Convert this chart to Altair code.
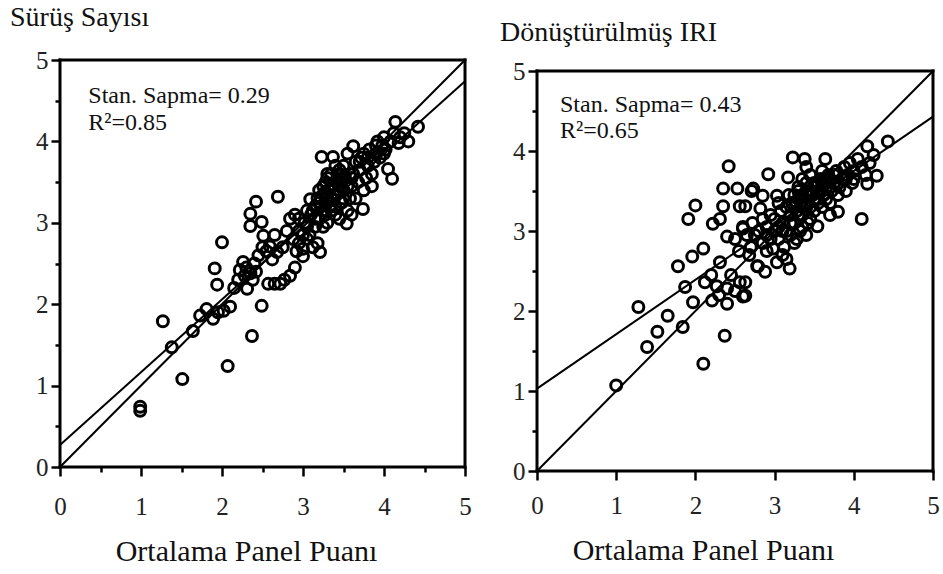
import altair as alt
import pandas as pd

# ---------------- data ----------------
left_x = [0.99, 0.99, 1.51, 2.07, 1.27, 1.38, 1.64, 1.73, 1.81, 1.89, 1.95, 2.02, 2.10, 2.37, 2.49,
          1.94, 1.91, 2.00, 2.15, 2.20, 2.26, 2.30, 2.31, 2.35, 2.22, 2.40, 2.38, 2.28, 2.45, 2.42,
          2.35, 2.35, 2.42, 2.49, 2.51, 2.69, 2.57, 2.65, 2.72, 2.59, 2.68, 2.55, 2.62, 2.50, 2.65,
          2.75, 2.84, 2.77, 2.90, 2.84, 2.80, 2.88, 2.92, 2.95, 3.00, 3.00, 3.05, 3.09, 3.02, 3.10,
          3.08, 3.21, 3.18, 3.15, 3.20, 3.22, 3.25, 3.15, 3.28, 3.30, 3.32, 3.35, 3.25, 3.30, 3.35,
          3.38, 3.40, 3.42, 3.45, 3.28, 3.23, 3.37, 3.45, 3.48, 3.50, 3.52, 3.54, 3.55, 3.58, 3.60,
          3.62, 3.62, 3.65, 3.30, 3.20, 3.35, 3.40, 3.50, 3.55, 3.65, 3.68, 3.70, 3.72, 3.74, 3.75,
          3.78, 3.80, 3.82, 3.85, 3.88, 3.90, 3.92, 3.95, 3.98, 4.00, 4.02, 4.05, 4.10, 4.08, 4.12,
          4.14, 4.18, 4.20, 4.25, 4.30, 4.42, 3.85, 3.60, 3.45, 3.12, 3.05, 2.95, 2.90,
          3.25, 3.30, 3.35, 3.40, 3.45, 3.20, 3.28, 3.33, 3.38, 3.42, 3.48, 3.50, 3.55, 3.58, 3.60,
          3.12, 3.18, 3.25, 3.30, 3.45, 3.15, 3.05, 3.00, 2.95, 3.70, 3.75, 3.80, 3.90, 4.00, 3.40]
left_y = [0.74, 0.69, 1.08, 1.24, 1.79, 1.47, 1.67, 1.86, 1.94, 1.82, 1.90, 1.92, 1.97, 1.61, 1.98,
          2.24, 2.44, 2.76, 2.20, 2.30, 2.52, 2.45, 2.19, 2.38, 2.42, 2.50, 2.30, 2.35, 2.60, 2.40,
          2.96, 3.11, 3.26, 3.01, 2.84, 3.32, 2.25, 2.25, 2.25, 2.71, 2.64, 2.65, 2.55, 2.70, 2.85,
          2.70, 2.35, 2.30, 2.45, 3.05, 2.90, 2.80, 2.65, 2.90, 2.59, 2.68, 2.80, 3.29, 3.00, 3.10,
          2.85, 2.64, 2.75, 2.95, 3.05, 3.20, 3.35, 3.20, 3.10, 3.25, 3.40, 3.30, 2.95, 3.00, 3.15,
          3.45, 3.20, 3.35, 3.50, 3.50, 3.81, 3.81, 3.60, 3.25, 3.40, 3.55, 2.99, 3.15, 3.30, 3.45,
          3.60, 3.94, 3.75, 3.55, 3.40, 3.60, 3.70, 3.70, 3.85, 3.30, 3.50, 3.65, 3.80, 3.17, 3.40,
          3.55, 3.70, 3.90, 3.60, 3.75, 3.85, 4.00, 3.80, 3.95, 4.05, 3.90, 3.66, 3.54, 4.00, 4.10,
          4.24, 3.98, 4.05, 4.10, 4.00, 4.18, 3.45, 3.10, 3.05, 2.70, 3.15, 3.05, 3.10,
          3.15, 3.30, 3.45, 3.35, 3.40, 3.25, 3.38, 3.20, 3.28, 3.50, 3.55, 3.30, 3.45, 3.60, 3.55,
          3.15, 3.30, 3.45, 3.60, 3.65, 3.05, 2.95, 2.85, 2.75, 3.75, 3.85, 3.80, 3.95, 3.85, 3.10]

right_x = [1.00, 1.28, 1.39, 1.52, 1.65, 1.84, 2.10, 2.37, 1.87, 1.78, 1.96, 2.10, 1.97, 2.12, 2.21,
           2.27, 2.40, 2.40, 2.56, 2.60, 2.31, 2.20, 2.30, 2.45, 2.50, 2.00, 1.91, 2.22, 2.31, 2.40,
           2.42, 2.35, 2.53, 2.71, 2.35, 2.56, 2.60, 2.73, 2.85, 3.03, 2.82, 2.85, 2.63, 2.60, 2.79,
           2.88, 3.03, 3.19, 2.63, 2.63, 2.78, 2.92, 3.17, 3.23, 3.38, 3.64, 2.70, 2.75, 2.80, 2.90,
           2.95, 2.98, 2.68, 2.55, 2.50, 2.65, 2.72, 2.90, 3.00, 3.05, 3.10, 3.08, 3.15, 3.12, 3.20,
           3.22, 3.25, 3.28, 3.30, 3.18, 3.32, 3.35, 3.38, 3.40, 3.42, 3.45, 3.48, 3.50, 3.30, 3.35,
           3.45, 3.50, 3.52, 3.54, 3.55, 3.58, 3.60, 3.62, 3.65, 3.68, 3.70, 3.72, 3.75, 3.78, 3.80,
           3.80, 3.82, 3.85, 3.88, 3.90, 3.92, 3.95, 3.98, 4.00, 4.05, 4.10, 4.10, 4.15, 4.17, 4.17,
           4.20, 4.25, 4.29, 4.43, 3.15, 3.25, 3.40, 3.05, 3.10, 2.95, 3.60, 3.70, 3.40, 3.28, 3.45,
           3.55, 3.65, 3.35,
           3.25, 3.30, 3.35, 3.40, 3.45, 3.50, 3.55, 3.60, 3.20, 3.15, 3.30, 3.40, 3.50, 3.60, 3.70,
           3.75, 3.65, 3.10, 3.00, 3.05, 3.35, 3.45, 3.55, 3.25, 3.80, 3.90, 4.00, 3.20, 2.85, 2.90]
right_y = [1.07, 2.05, 1.55, 1.74, 1.94, 1.80, 1.34, 1.69, 2.30, 2.56, 2.68, 2.78, 2.11, 2.36, 2.13,
           2.31, 2.09, 2.28, 2.36, 2.18, 2.61, 2.45, 2.20, 2.45, 2.25, 3.32, 3.15, 3.09, 3.15, 2.93,
           3.81, 3.53, 3.53, 3.50, 3.31, 3.31, 3.05, 3.53, 3.44, 3.44, 3.28, 3.15, 3.31, 3.03, 2.56,
           2.49, 2.61, 2.53, 2.36, 2.19, 2.56, 3.71, 3.67, 3.92, 3.90, 3.90, 2.80, 2.95, 3.00, 2.75,
           2.90, 2.78, 2.70, 2.75, 2.90, 2.95, 3.10, 3.05, 3.00, 2.90, 3.10, 3.25, 3.00, 2.80, 3.20,
           3.35, 3.10, 3.25, 3.40, 3.45, 3.00, 3.20, 3.35, 3.50, 3.10, 3.30, 3.45, 3.60, 3.55, 3.65,
           3.70, 3.25, 3.40, 3.06, 3.50, 3.65, 3.30, 3.45, 3.55, 3.70, 3.35, 3.50, 3.60, 3.75, 3.24,
           3.45, 3.55, 3.65, 3.80, 3.50, 3.70, 3.85, 3.60, 3.75, 3.90, 3.15, 3.80, 3.70, 3.59, 4.06,
           3.85, 3.95, 3.69, 4.12, 2.65, 2.85, 2.95, 3.35, 2.70, 3.20, 3.75, 3.20, 3.80, 2.90, 3.15,
           3.35, 3.40, 3.05,
           3.30, 3.20, 3.45, 3.30, 3.50, 3.40, 3.60, 3.50, 3.10, 3.30, 3.50, 3.60, 3.55, 3.60, 3.55,
           3.70, 3.65, 3.00, 3.15, 3.05, 3.30, 3.45, 3.40, 3.45, 3.60, 3.65, 3.65, 2.95, 2.85, 2.95]

# reference (1:1) and fitted lines: [start, end]
line_x = [0, 5]
left_equal_y = [0, 5]
left_fit_y = [0.27, 4.74]
right_equal_y = [0, 5]
right_fit_y = [1.03, 4.43]

left_title = "Sürüş Sayısı"
right_title = "Dönüştürülmüş IRI"
x_title = "Ortalama Panel Puanı"
left_notes = ["Stan. Sapma= 0.29", "R²=0.85"]
right_notes = ["Stan. Sapma= 0.43", "R²=0.65"]
left_note_x, left_note_y = 0.35, [4.47, 4.14]
right_note_x, right_note_y = 0.29, [4.49, 4.16]

tick_values = [0, 0.5, 1, 1.5, 2, 2.5, 3, 3.5, 4, 4.5, 5]
frame_lo, frame_hi = 0, 5

SERIF = "Liberation Serif"


def axis(title=None, label_pad=3, title_pad=10, title_x=None):
    kw = dict(
        values=tick_values,
        labelExpr="datum.value % 1 === 0 ? format(datum.value, 'd') : ''",
        labelOverlap=False,
        labelFlush=False,
        labelFont=SERIF,
        labelFontSize=25,
        labelColor="#222",
        labelPadding=label_pad,
        tickSize={"condition": {"test": "datum.value % 1 === 0", "value": 9}, "value": 5},
        tickWidth=2.5,
        tickColor="black",
        domain=False,
        grid=False,
    )
    if title:
        kw.update(title=title, titleFont=SERIF, titleFontSize=30, titleFontWeight="normal",
                  titleColor="#111", titlePadding=title_pad, titleX=title_x,
                  titleAlign="center")
    else:
        kw.update(title=None)
    return alt.Axis(**kw)


def panel(xs, ys, eq_y, fit_y, notes, note_x, note_y, title, w, h, top_gap,
          x_label_pad, x_title_pad, x_title_x, title_dx, title_offset):
    xscale = alt.Scale(domain=[0, 5], nice=False, zero=True)
    yscale = alt.Scale(domain=[0, 5], nice=False, zero=True, range=[h, top_gap])
    pts = pd.DataFrame({"x": xs, "y": ys})
    lines = pd.DataFrame({
        "x": line_x + line_x,
        "y": eq_y + fit_y,
        "k": ["eq", "eq", "fit", "fit"],
    })
    ann = pd.DataFrame({"x": [note_x, note_x], "y": note_y, "t": notes})
    frame = pd.DataFrame({
        "x": [frame_lo, frame_hi, frame_lo, frame_lo],
        "x2": [frame_lo, frame_hi, frame_hi, frame_hi],
        "y": [frame_lo, frame_lo, frame_lo, frame_hi],
        "y2": [frame_hi, frame_hi, frame_lo, frame_hi],
    })

    fr = alt.Chart(frame).mark_rule(color="black", strokeWidth=3, strokeCap="square").encode(
        x=alt.X("x:Q", scale=xscale, axis=axis(x_title, x_label_pad, x_title_pad, x_title_x)),
        x2="x2:Q",
        y=alt.Y("y:Q", scale=yscale, axis=axis()),
        y2="y2:Q",
    )
    ln = alt.Chart(lines).mark_line(color="black", strokeWidth=2).encode(
        x="x:Q", y="y:Q", detail="k:N")
    pt = alt.Chart(pts).mark_point(shape="circle", filled=False, color="black",
                                   size=120, strokeWidth=3, opacity=1).encode(
        x="x:Q", y="y:Q")
    tx = alt.Chart(ann).mark_text(align="left", baseline="alphabetic", font=SERIF,
                                  fontSize=24, color="#111").encode(
        x="x:Q", y="y:Q", text="t:N")
    return alt.layer(fr, ln, pt, tx).properties(
        width=w, height=h,
        title=alt.TitleParams(text=title, font=SERIF, fontSize=28,
                              fontWeight="normal", anchor="start", frame="group",
                              color="#111", baseline="alphabetic",
                              offset=title_offset, dx=title_dx),
    )


left = panel(left_x, left_y, left_equal_y, left_fit_y, left_notes, left_note_x, left_note_y,
             left_title, 405, 407, 0, 18, 17, 186, -50, -6)
right = panel(right_x, right_y, right_equal_y, right_fit_y, right_notes, right_note_x, right_note_y,
              right_title, 396, 411, 11, 13, 17, 166, -37, -10)

chart = alt.hconcat(left, right, spacing=28).properties(
    padding={"left": 10, "top": 4, "right": 3, "bottom": 2},
    background="white",
).configure_view(strokeWidth=0).configure_concat(spacing=28)

chart.save("out.html", embed_options={"renderer": "svg", "actions": False})
